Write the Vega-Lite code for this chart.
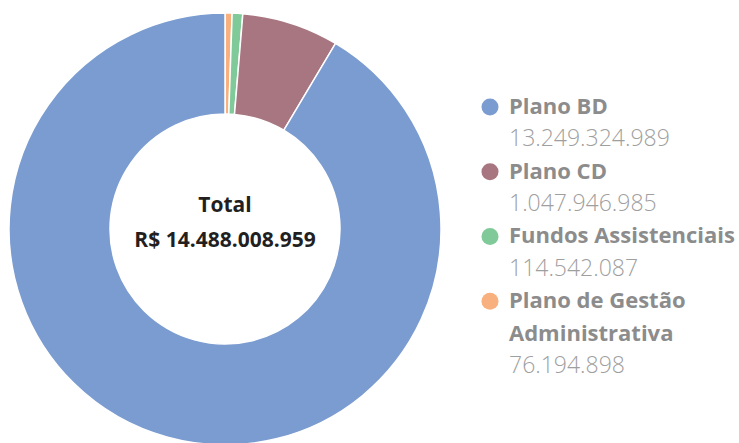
{
  "$schema": "https://vega.github.io/schema/vega-lite/v6.json",
  "padding": 0,
  "spacing": 0,
  "background": "white",
  "config": {"view": {"stroke": null}, "font": "Open Sans"},
  "datasets": {
    "plans": [
      {"category": "Plano de Gestão Administrativa", "value": 76194898, "order": 1},
      {"category": "Fundos Assistenciais", "value": 114542087, "order": 2},
      {"category": "Plano CD", "value": 1047946985, "order": 3},
      {"category": "Plano BD", "value": 13249324989, "order": 4}
    ],
    "legend": [
      {"line": 0, "label": "Plano BD", "kind": "name", "category": "Plano BD", "marker": true},
      {"line": 1, "label": "13.249.324.989", "kind": "value", "category": "Plano BD", "marker": false},
      {"line": 2, "label": "Plano CD", "kind": "name", "category": "Plano CD", "marker": true},
      {"line": 3, "label": "1.047.946.985", "kind": "value", "category": "Plano CD", "marker": false},
      {"line": 4, "label": "Fundos Assistenciais", "kind": "name", "category": "Fundos Assistenciais", "marker": true},
      {"line": 5, "label": "114.542.087", "kind": "value", "category": "Fundos Assistenciais", "marker": false},
      {"line": 6, "label": "Plano de Gestão", "kind": "name", "category": "Plano de Gestão Administrativa", "marker": true},
      {"line": 7, "label": "Administrativa", "kind": "name", "category": "Plano de Gestão Administrativa", "marker": false},
      {"line": 8, "label": "76.194.898", "kind": "value", "category": "Plano de Gestão Administrativa", "marker": false}
    ]
  },
  "hconcat": [
    {
      "width": 450,
      "height": 458,
      "data": {"name": "plans"},
      "layer": [
        {
          "mark": {"type": "arc", "outerRadius": 216, "innerRadius": 115, "stroke": "white", "strokeWidth": 1.5},
          "encoding": {
            "theta": {"field": "value", "type": "quantitative", "stack": true},
            "order": {"field": "order", "type": "quantitative"},
            "color": {
              "field": "category",
              "type": "nominal",
              "scale": {
                "domain": ["Plano BD", "Plano CD", "Fundos Assistenciais", "Plano de Gestão Administrativa"],
                "range": ["#7b9cd1", "#a87680", "#80ca9a", "#f8b07e"]
              },
              "legend": null
            }
          }
        },
        {
          "data": {"values": [{"t": "Total"}]},
          "mark": {
            "type": "text",
            "text": ["Total", "R$ 14.488.008.959"],
            "lineHeight": 35,
            "fontSize": 21,
            "fontWeight": "bold",
            "color": "#231f20",
            "align": "center",
            "baseline": "middle",
            "dy": -23,
            "letterSpacing": -0.3
          },
          "encoding": {}
        }
      ]
    },
    {
      "width": 289,
      "height": 458,
      "data": {"name": "legend"},
      "encoding": {
        "y": {
          "field": "line",
          "type": "quantitative",
          "scale": {"domain": [-3.305, 10.842], "reverse": true, "nice": false, "zero": false},
          "axis": null
        }
      },
      "layer": [
        {
          "transform": [{"filter": "datum.marker"}],
          "mark": {"type": "point", "filled": true, "size": 290, "opacity": 1, "shape": "circle"},
          "encoding": {
            "x": {"value": 40},
            "color": {
              "field": "category",
              "type": "nominal",
              "scale": {
                "domain": ["Plano BD", "Plano CD", "Fundos Assistenciais", "Plano de Gestão Administrativa"],
                "range": ["#7b9cd1", "#a87680", "#80ca9a", "#f8b07e"]
              },
              "legend": null
            }
          }
        },
        {
          "transform": [{"filter": "datum.kind === 'name'"}],
          "mark": {"type": "text", "align": "left", "baseline": "middle", "fontSize": 22, "fontWeight": "bold", "color": "#8c8c8c", "letterSpacing": 0.2},
          "encoding": {
            "x": {"value": 59},
            "text": {"field": "label"}
          }
        },
        {
          "transform": [{"filter": "datum.kind === 'value'"}],
          "mark": {"type": "text", "align": "left", "baseline": "middle", "fontSize": 23, "fontWeight": 300, "color": "#9f9f9f", "letterSpacing": 2.4},
          "encoding": {
            "x": {"value": 59},
            "text": {"field": "label"}
          }
        }
      ]
    }
  ]
}
